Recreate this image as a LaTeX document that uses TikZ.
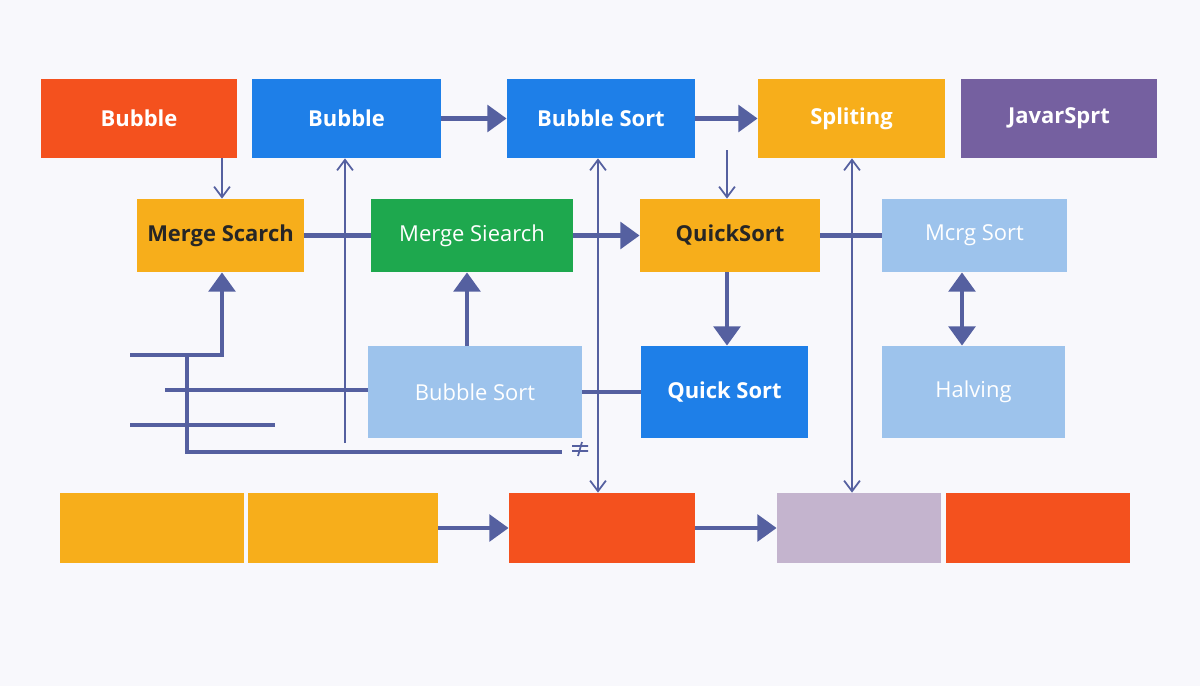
\documentclass[tikz,border=0pt]{standalone}
\usepackage{fontspec}
\setmainfont{Open Sans}
\usetikzlibrary{arrows.meta}
\definecolor{cOrange}{HTML}{F4511E}
\definecolor{cBlue}{HTML}{1E7FE8}
\definecolor{cAmber}{HTML}{F7AE1B}
\definecolor{cPurple}{HTML}{7560A0}
\definecolor{cGreen}{HTML}{1EA84E}
\definecolor{cLight}{HTML}{9DC3EC}
\definecolor{cLav}{HTML}{C4B4CE}
\definecolor{cLine}{HTML}{5560A0}
\definecolor{cBg}{HTML}{F8F8FC}
\tikzset{
  box/.style={draw=none, fill=#1, inner sep=0pt, font=\fontsize{12.5}{15}\selectfont\bfseries, text=white},
  dark/.style={text=black!85},
  sz/.style 2 args={minimum width=#1*0.02cm, minimum height=#2*0.02cm},
  thin/.style={draw=cLine, line width=1pt},
  thick/.style={draw=cLine, line width=2.8pt},
  tip/.style={-{Triangle[length=11pt,width=15pt]}},
  tipb/.style={{Triangle[length=11pt,width=15pt]}-{Triangle[length=11pt,width=15pt]}},
  barb/.style={-{Straight Barb[length=6pt,width=9pt]}},
  barbb/.style={{Straight Barb[length=6pt,width=9pt]}-{Straight Barb[length=6pt,width=9pt]}}
}
\begin{document}
\begin{tikzpicture}[x=0.02cm,y=-0.02cm]
\fill[cBg] (0,0) rectangle (1200,686);
\useasboundingbox (0,0) rectangle (1200,686);
% top row
\node[box=cOrange,sz={196}{79}] (a1) at (139,118.5) {Bubble};
\node[box=cBlue,sz={189}{79}] (a2) at (346.5,118.5) {Bubble};
\node[box=cBlue,sz={188}{79}] (a3) at (601,118.5) {Bubble Sort};
\node[box=cAmber,sz={187}{79}] (a4) at (851.5,118.5) {Spliting};
\node[box=cPurple,sz={196}{79}] (a5) at (1059,118.5) {JavarSprt};
% second row
\node[box=cAmber,dark,sz={167}{73}] (b1) at (220.5,235.5) {Merge Scarch};
\node[box=cGreen,sz={202}{73}] (b2) at (472,235.5) {\mdseries Merge Siearch};
\node[box=cAmber,dark,sz={180}{73}] (b3) at (730,235.5) {QuickSort};
\node[box=cLight,sz={185}{73}] (b4) at (974.5,235.5) {\mdseries Mcrg Sort};
% third row
\node[box=cLight,sz={214}{92}] (c1) at (475,392) {\mdseries Bubble Sort};
\node[box=cBlue,sz={167}{92}] (c2) at (724.5,392) {Quick Sort};
\node[box=cLight,sz={183}{92}] (c3) at (973.5,392) {\mdseries Halving};
% bottom row
\node[box=cAmber,sz={184}{70}] (d1) at (152,528) {};
\node[box=cAmber,sz={190}{70}] (d2) at (343,528) {};
\node[box=cOrange,sz={186}{70}] (d3) at (602,528) {};
\node[box=cLav,sz={164}{70}] (d4) at (859,528) {};
\node[box=cOrange,sz={184}{70}] (d5) at (1038,528) {};
% free ends
\coordinate (p1) at (727,150);
\coordinate (p2) at (345,443);
\coordinate (q1) at (130,355);
\coordinate (q2) at (165,390);
\coordinate (q3) at (187,355);
\coordinate (q4) at (562,452);
\coordinate (q5) at (130,425);
\coordinate (q6) at (275,425);
% thick arrows
\draw[thick,tip] (a2.east) -- (a3.west);
\draw[thick,tip] (a3.east) -- (a4.west);
\draw[thick,tip] (b2.east) -- (b3.west);
\draw[thick,tip] (b3.south -| 727,0) -- (c2.north -| 727,0);
\draw[thick,tip] (c1.north -| 467,0) -- (b2.south -| 467,0);
\draw[thick,tipb] (b4.south -| 962,0) -- (c3.north -| 962,0);
\draw[thick,tip] (d2.east) -- (d3.west);
\draw[thick,tip] (d3.east) -- (d4.west);
\draw[thick] (b1.east) -- (b2.west);
\draw[thick] (b3.east) -- (b4.west);
\draw[thick] (c1.east) -- (c2.west);
\draw[thick,tip] (q1) -- (222,355) -- (b1.south -| 222,0);
\draw[thick] (q2) -- (c1.west |- q2);
\draw[thick] (q3) -- (187,452) -- (q4);
\draw[thick] (q5) -- (q6);
% thin arrows
\draw[thin,barb] (a1.south -| 222,0) -- (b1.north -| 222,0);
\draw[thin,barb] (p2) -- (a2.south -| p2);
\draw[thin,barbb] (a3.south -| 598,0) -- (d3.north -| 598,0);
\draw[thin,barb] (p1) -- (b3.north -| p1);
\draw[thin,barbb] (a4.south -| 852,0) -- (d4.north -| 852,0);
\draw[thin] (572,446) -- (588,446) (572,451) -- (588,451) (578,456) -- (582,442);
\end{tikzpicture}
\end{document}
